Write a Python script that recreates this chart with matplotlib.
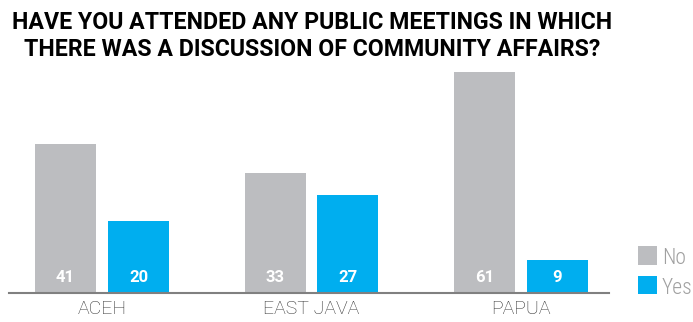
import matplotlib
matplotlib.use("Agg")
import matplotlib.pyplot as plt
from matplotlib.patches import Rectangle
import numpy as np

categories = ["ACEH", "EAST JAVA", "PAPUA"]
no_values = [41, 33, 61]
yes_values = [20, 27, 9]
series_names = ["No", "Yes"]
title_lines = ["HAVE YOU ATTENDED ANY PUBLIC MEETINGS IN WHICH",
               "THERE WAS A DISCUSSION OF COMMUNITY AFFAIRS?"]

gray = "#BCBDC0"
blue = "#00AEEF"
COND = ["Roboto Condensed", "Barlow Condensed", "DejaVu Sans"]
REG = ["Roboto", "DejaVu Sans"]

W, H = 693, 322
fig = plt.figure(figsize=(W/100, H/100), dpi=100)
ax = fig.add_axes([9/W, 1-293/H, (609-9)/W, (293-72)/H])

x = np.arange(len(categories))
w = 0.291
off = 0.174
b1 = ax.bar(x - off, no_values, w, color=gray, label=series_names[0])
b2 = ax.bar(x + off, yes_values, w, color=blue, label=series_names[1])

for bars, vals in ((b1, no_values), (b2, yes_values)):
    for r, v in zip(bars, vals):
        ax.text(r.get_x() + r.get_width()/2, 4.4, str(v), ha="center", va="center",
                color="white", fontweight="bold", fontsize=12, family=REG)

ax.set_xlim(-0.444, 2.42)
ax.set_ylim(0, 61)
for s in ("top", "right", "left"):
    ax.spines[s].set_visible(False)
ax.spines["bottom"].set_color("#808080")
ax.spines["bottom"].set_linewidth(1.5)
ax.set_yticks([])
ax.set_xticks(x)
ax.set_xticklabels(categories, family=REG, fontweight="light", fontsize=14, color="#333333")
ax.tick_params(axis="x", length=0, pad=5)

for line, base in zip(title_lines, (29, 56)):
    fig.text(312/W, 1-base/H, line, ha="center", va="baseline", fontsize=16.7,
             fontweight="bold", family=REG)

# legend
for (y0, y1), base, col, name in (((246, 264.5), 263.5, gray, series_names[0]),
                                  ((276, 294), 293.5, blue, series_names[1])):
    fig.patches.append(Rectangle((638/W, 1-y1/H), 19/W, (y1-y0)/H, transform=fig.transFigure,
                                 facecolor=col, edgecolor="none"))
    fig.text(662/W, 1-base/H, name, ha="left", va="baseline",
             fontsize=15.5, fontweight="light", family=COND, color="#A0A0A0")

fig.savefig("out.png", dpi=100)
